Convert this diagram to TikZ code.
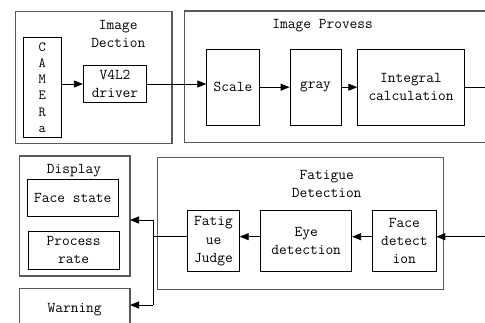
\documentclass[tikz,border=0pt]{standalone}
\usetikzlibrary{arrows.meta}
\begin{document}
\begin{tikzpicture}[x=1pt,y=-1pt,
  txt/.style={font=\fontsize{15}{18}\selectfont\ttfamily, text=black, align=center, inner sep=0pt},
  box/.style={txt, draw=black, line width=0.8pt},
  outer/.style={draw=black!65, line width=1.1pt},
  conn/.style={line width=0.8pt},
  arr/.style={conn, -{Triangle[length=9pt,width=7pt]}}]
\useasboundingbox (0,0) rectangle (485,322);
% Image Dection
\node (imgdet) [outer, minimum width=156.3pt, minimum height=131.6pt, inner sep=0pt] at (93.8,77.5) {};
\node (imgdett) [txt] at (118.3,34) {Image\\Dection};
\node (cam) [box, minimum width=38pt, minimum height=99.6pt, font=\fontsize{14}{16.3}\selectfont\ttfamily] at (42.3,87.5) {C\\A\\M\\E\\R\\a};
\node (v4l) [box, minimum width=63.4pt, minimum height=37.3pt] at (115,84) {V4L2\\driver};
% Image Provess
\draw[outer] (485,11) -- (184.7,11) -- (184.7,142.7) -- (485,142.7);
\node (imgpt) [txt] at (322.7,26) {Image Provess};
\node (scale) [box, minimum width=52.6pt, minimum height=75.7pt] at (233,87.2) {Scale};
\node (gray) [box, minimum width=51pt, minimum height=75.7pt] at (315.5,87.2) {gray};
\node (integ) [box, minimum width=106.6pt, minimum height=75.7pt] at (411,87.2) {Integral\\calculation};
\coordinate (out) at (485,87.2);
% Display
\node (disp) [outer, minimum width=110.7pt, minimum height=120pt, inner sep=0pt] at (74.65,216) {};
\node (dispt) [txt] at (74,170.5) {Display};
\node (face) [box, minimum width=91pt, minimum height=37.7pt] at (72.8,197.8) {Face state};
\node (rate) [box, minimum width=90.7pt, minimum height=38.3pt] at (73.65,250.2) {Process\\rate};
% Warning
\draw[outer] (19.3,330) -- (19.3,288.3) -- (130,288.3) -- (130,330);
\node (warn) [txt] at (74.65,310) {Warning};
\coordinate (warnin) at (130,305);
\coordinate (dispin) at (130,220);
% Fatigue Detection
\node (fat) [outer, minimum width=285.6pt, minimum height=131.7pt, inner sep=0pt] at (300.5,223.2) {};
\node (fatt) [txt] at (326.7,184) {Fatigue\\Detection};
\node (fj) [box, minimum width=51.6pt, minimum height=61pt, font=\fontsize{15}{18.5}\selectfont\ttfamily] at (213.5,241.2) {Fatig\\ue\\Judge};
\node (eye) [box, minimum width=91pt, minimum height=61pt] at (306.2,241.2) {Eye\\detection};
\node (fd) [box, minimum width=63.3pt, minimum height=61pt] at (404.3,241.2) {Face\\detect\\ion};
\coordinate (in) at (485,236.7);
\coordinate (j) at (153.3,236.7);
\coordinate (jt) at (153.3,220);
\coordinate (jb) at (153.3,305);
% connectors
\draw[arr] (cam.east |- v4l) -- (v4l.west);
\draw[arr] (v4l.east) -- (v4l.east -| scale.west);
\draw[arr] (scale) -- (gray);
\draw[arr] (gray) -- (integ);
\draw[conn] (integ.east) -- (out);
\draw[arr] (in) -- (in -| fd.east);
\draw[arr] (fd.west |- in) -- (eye.east |- in);
\draw[arr] (eye.west |- in) -- (fj.east |- in);
\draw[conn] (fj.west |- in) -- (j);
\draw[conn] (jt) -- (jb);
\draw[arr] (jt) -- (dispin);
\draw[arr] (jb) -- (warnin);
\end{tikzpicture}
\end{document}
